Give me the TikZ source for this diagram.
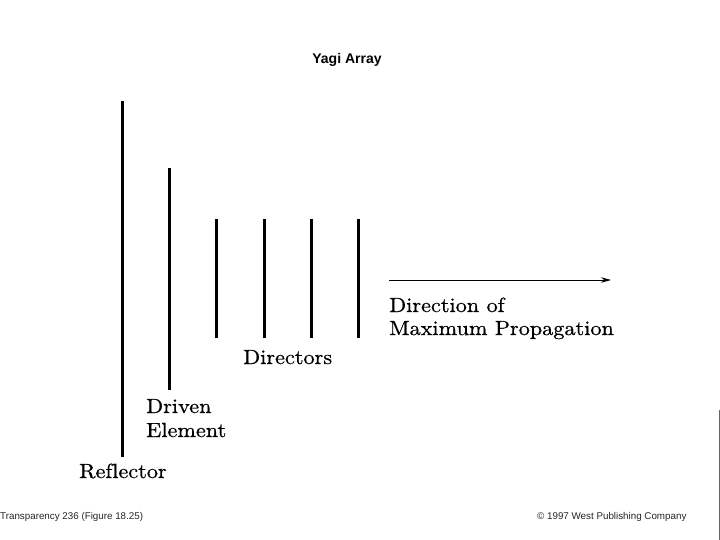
\documentclass[tikz,border=0pt]{standalone}
\usepackage{fontspec}
\newfontfamily\labfont{lmroman10-regular}[Extension=.otf, FakeBold=0.6, Ligatures=CommonOff]
\newfontfamily\sansfont{Liberation Sans}
\usetikzlibrary{arrows.meta}
\tikzset{
  element/.style={line width=3pt},
  lab/.style={anchor=base west, inner sep=0pt, xscale=1.085, transform shape, font=\labfont\fontsize{20.5}{24}\selectfont},
  foot/.style={anchor=base west, inner sep=0pt, font=\sansfont\fontsize{9.8}{11}\selectfont, text=black!85},
  ttl/.style={anchor=base, inner sep=0pt, font=\sansfont\bfseries\fontsize{14}{16}\selectfont},
  dirarrow/.style={line width=1pt, -{Stealth[length=10pt,width=5.5pt]}}
}
\begin{document}
\begin{tikzpicture}[x=1pt,y=-1pt]
\useasboundingbox (0,0) rectangle (720,540);
\fill[white] (0,0) rectangle (720,540);
% title
\node[ttl] (title) at (347,64) {Yagi Array};
% reflector
\coordinate (reft) at (122,101);
\coordinate (refb) at (122,457);
\draw[element] (reft) -- (refb);
% driven element
\coordinate (drvt) at (169,168);
\coordinate (drvb) at (169,390);
\draw[element] (drvt) -- (drvb);
% directors
\foreach \i/\x in {1/216,2/264,3/311,4/358}{
  \coordinate (d\i t) at (\x,219);
  \coordinate (d\i b) at (\x,338);
  \draw[element] (d\i t) -- (d\i b);
}
% direction arrow
\coordinate (arrs) at (389,280);
\coordinate (arre) at (611,280);
\draw[dirarrow] (arrs) -- (arre);
% labels
\node[lab] (dir1) at (389,312) {Direction of};
\node[lab] (dir2) at (389,335) {Maximum Propagation};
\node[lab] (directors) at (243,364) {Directors};
\node[lab] (driven1) at (146,413) {Driven};
\node[lab] (driven2) at (146,437) {Element};
\node[lab] (reflector) at (79,478) {Reflector};
% footer
\node[foot] (trans) at (0,519) {Transparency 236 (Figure 18.25)};
\node[foot] (copy) at (537,519) {\textcopyright\ 1997 West Publishing Company};
% right edge line
\coordinate (edget) at (719,410);
\coordinate (edgeb) at (719,540);
\draw[black!60, line width=0.8pt] (edget) -- (edgeb);
\end{tikzpicture}
\end{document}
